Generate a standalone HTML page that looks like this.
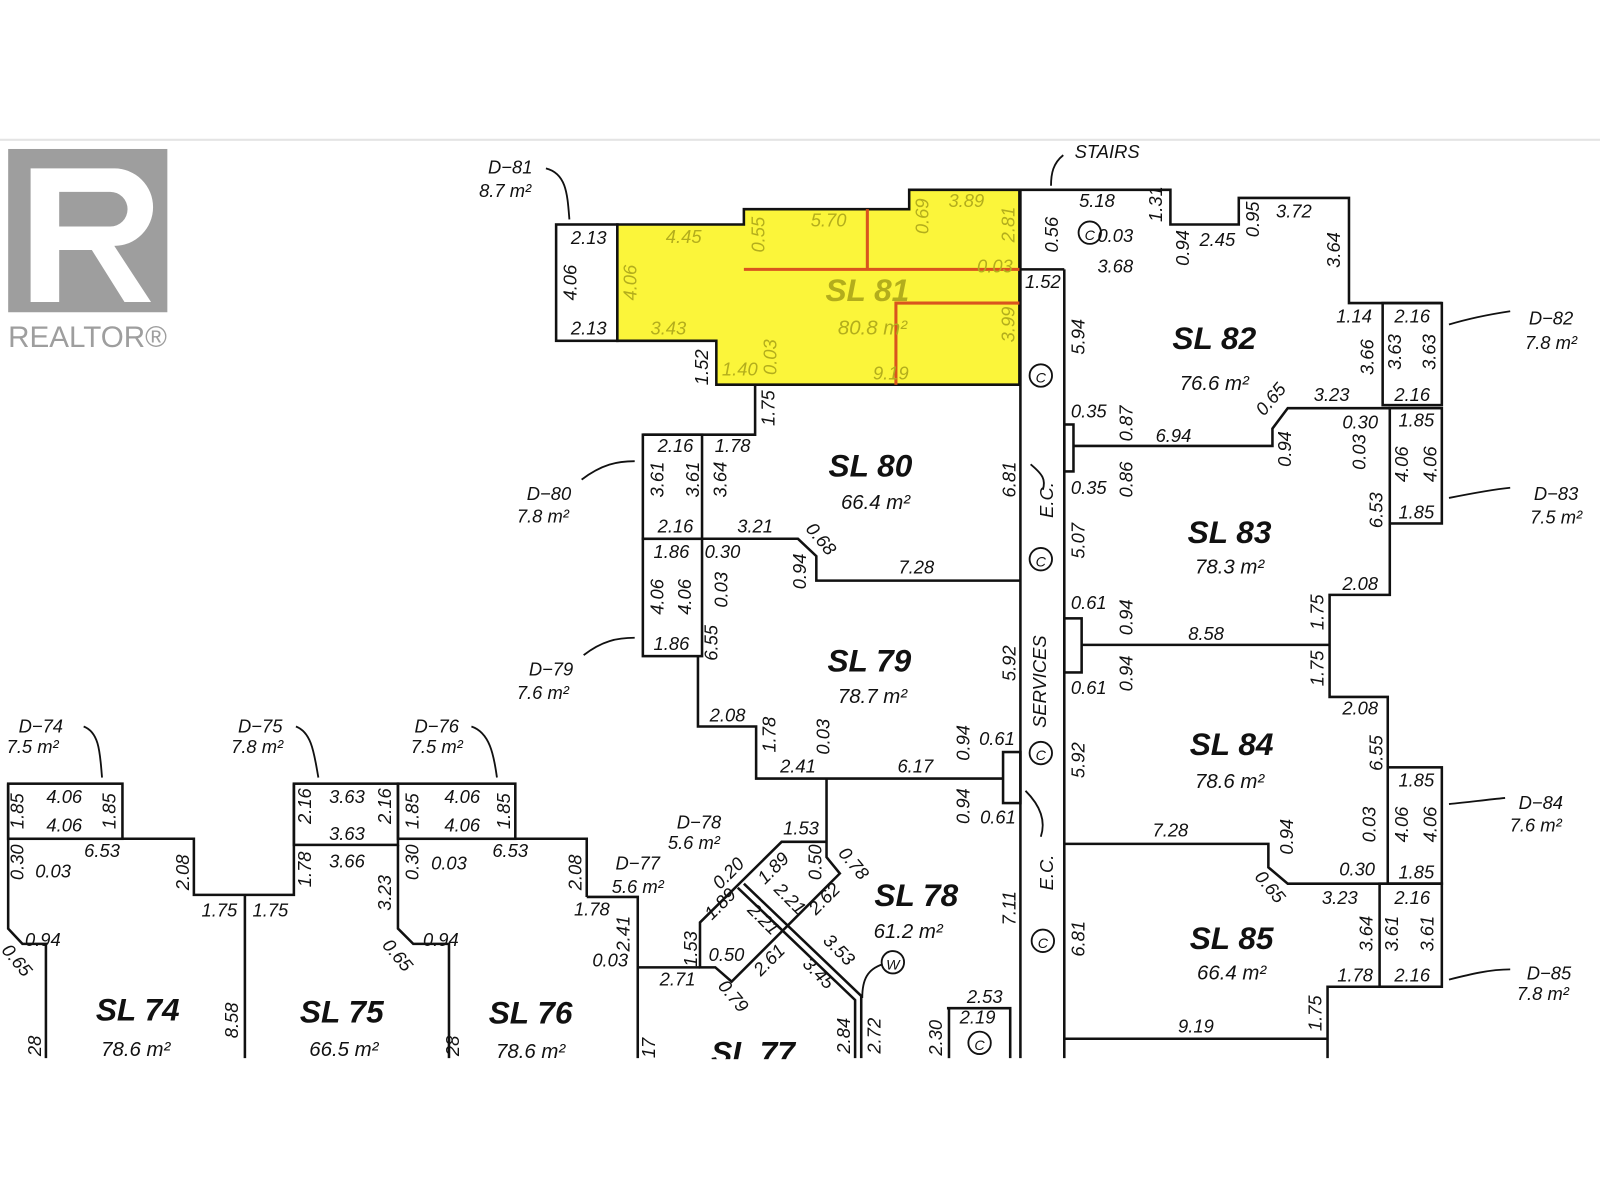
<!DOCTYPE html>
<html><head><meta charset="utf-8"><style>
html,body{margin:0;padding:0;background:#fff;}
svg{display:block}
text{font-family:"Liberation Sans",sans-serif;font-style:italic;fill:#111;text-anchor:middle}
.d{font-size:18px}
.s{font-size:31px;font-weight:bold}
.a{font-size:20px}
.y text, text.y{fill:#b3ad1c}
</style></head><body>
<svg width="1600" height="1200" viewBox="0 0 1568 1176" xmlns="http://www.w3.org/2000/svg">
<rect width="1568" height="1176" fill="#fff"/>
<line x1="0" y1="137" x2="1568" y2="137" stroke="#e4e4e4" stroke-width="2"/>
<!-- logo -->
<rect x="8" y="146" width="156" height="160" fill="#9e9e9e"/>
<path d="M30 165 H112 A38 38 0 0 1 112 241 L148 296 H122 L90 245 H58 V296 H30 Z M58 188 V222 H108 A17 17 0 0 0 108 188 Z" fill="#fff"/>
<text x="8" y="340" style="font-style:normal;text-anchor:start;font-size:29px;fill:#9e9e9e">REALTOR®</text>

<g fill="none" stroke="#111" stroke-width="2.5">
<rect x="545" y="220" width="60" height="114"/>
<polygon points="605,220 729,220 729,205 891,205 891,186 999,186 999,377 702,377 702,334 605,334" fill="#fbf53a"/>
<line x1="999" y1="264" x2="1043" y2="264"/>
<line x1="1000" y1="186" x2="1000" y2="1037"/>
<line x1="1043" y1="264" x2="1043" y2="1037"/>
<polyline points="999,186 1147,186 1147,220 1214,220 1214,194 1322,194 1322,297 1413,297"/>
<rect x="1355" y="297" width="58" height="100"/>
<rect x="1043" y="416" width="9" height="46"/>
<polyline points="1052,437 1247,437 1247,420 1262,400 1362,400"/>
<rect x="1362" y="400" width="51" height="113"/>
<polyline points="1362,513 1362,583 1303,583 1303,683 1360,683 1360,752"/>
<rect x="1043" y="606" width="17" height="53"/>
<line x1="1060" y1="632" x2="1303" y2="632"/>
<rect x="1360" y="752" width="53" height="114"/>
<polyline points="1043,827 1243,827 1243,850 1262,866 1413,866"/>
<rect x="1352" y="866" width="61" height="101"/>
<polyline points="1352,967 1301,967 1301,1037"/>
<line x1="1043" y1="1018" x2="1301" y2="1018"/>
<polyline points="740,377 740,426 630,426"/>
<rect x="630" y="426" width="58" height="102"/>
<polyline points="688,528 782,528 800,545 800,569 1000,569"/>
<rect x="630" y="528" width="58" height="115"/>
<polyline points="684,643 684,712 741,712 741,763 983,763"/>
<rect x="983" y="737" width="17" height="50"/>
<polyline points="810,763 810,840 823,856 717,962 701,948 686,948 686,904 766,825 810,825"/>
<polyline points="575,879 625,879 625,1037"/>
<line x1="625" y1="948" x2="686" y2="948"/>
<polyline points="723,870 838,980 838,1037"/>
<polyline points="729,866 844,976 844,1037"/>
<polyline points="928,988 990,988 990,1037"/>
<line x1="930" y1="988" x2="930" y2="1037"/>
<rect x="8" y="768" width="112" height="54"/>
<polyline points="8,768 8,910 22,925 45,925 45,1037"/>
<polyline points="8,822 190,822 190,877 288,877 288,768"/>
<rect x="288" y="768" width="102" height="60"/>
<rect x="390" y="768" width="115" height="54"/>
<polyline points="505,822 575,822 575,879"/>
<polyline points="390,828 390,910 405,925 440,925 440,1037"/>
<line x1="240" y1="877" x2="240" y2="1037"/>
</g>
<g stroke="#d9541e" stroke-width="3" fill="none">
<line x1="729" y1="264" x2="999" y2="264"/><line x1="850" y1="205" x2="850" y2="264"/>
<polyline points="999,297 878,297 878,377"/>
</g>
<g fill="none" stroke="#111" stroke-width="1.8">
<circle cx="1068" cy="228" r="11"/><circle cx="1020" cy="368" r="11"/><circle cx="1020" cy="548" r="11"/>
<circle cx="1020" cy="738" r="11"/><circle cx="1022" cy="922" r="11"/><circle cx="960" cy="1022" r="11"/><circle cx="875" cy="943" r="11"/>
<path d="M535 165 C555 170 556 190 558 215"/><path d="M1042 152 C1032 160 1030 170 1030 182"/>
<path d="M1480 305 C1460 308 1440 312 1420 318"/><path d="M1480 478 C1460 480 1440 484 1420 488"/>
<path d="M1475 782 C1455 784 1440 786 1420 788"/><path d="M1480 950 C1460 950 1440 955 1420 960"/>
<path d="M570 470 C590 455 605 452 622 452"/><path d="M572 642 C590 628 605 625 622 625"/>
<path d="M82 712 C98 718 98 740 100 762"/><path d="M290 712 C306 718 308 740 312 762"/><path d="M462 712 C480 718 484 740 487 762"/>
<path d="M1005 775 C1020 790 1025 805 1020 820"/><path d="M1010 455 C1022 465 1025 470 1022 480"/>
<path d="M865 945 C850 950 845 960 845 978"/>
</g>
<text x="1020" y="375" class="d" style="font-size:14px">C</text><text x="1068" y="235" class="d" style="font-size:14px">C</text>
<text x="1020" y="555" class="d" style="font-size:14px">C</text><text x="1020" y="745" class="d" style="font-size:14px">C</text>
<text x="1022" y="929" class="d" style="font-size:14px">C</text><text x="960" y="1029" class="d" style="font-size:14px">C</text>
<text x="875" y="950" class="d" style="font-size:14px">W</text>

<g class="d">
<text x="577" y="239">2.13</text><text x="577" y="328">2.13</text><text transform="translate(565,277) rotate(-90)">4.06</text>
<text x="500" y="170">D−81</text><text x="495" y="193">8.7 m²</text>
<text x="1085" y="155">STAIRS</text>
</g>
<g class="d y">
<text x="670" y="238">4.45</text><text transform="translate(624,277) rotate(-90)">4.06</text><text x="655" y="328">3.43</text>
<text transform="translate(749,230) rotate(-90)">0.55</text><text x="812" y="222">5.70</text>
<text transform="translate(910,212) rotate(-90)">0.69</text><text x="947" y="203">3.89</text>
<text transform="translate(994,220) rotate(-90)">2.81</text><text x="975" y="267">0.03</text>
<text transform="translate(994,318) rotate(-90)">3.99</text><text transform="translate(761,350) rotate(-90)">0.03</text>
<text x="725" y="368">1.40</text><text x="873" y="372">9.19</text>
<text x="850" y="295" class="s">SL 81</text><text x="855" y="328" class="a">80.8 m²</text>
</g>
<g class="d">
<text transform="translate(694,360) rotate(-90)">1.52</text><text transform="translate(759,400) rotate(-90)">1.75</text>
<text x="1022" y="282">1.52</text>
<text x="1075" y="203">5.18</text><text x="1093" y="237">0.03</text><text transform="translate(1139,200) rotate(-90)">1.31</text>
<text transform="translate(1037,230) rotate(-90)">0.56</text><text x="1093" y="267">3.68</text>
<text transform="translate(1165,243) rotate(-90)">0.94</text><text x="1193" y="241">2.45</text>
<text transform="translate(1234,215) rotate(-90)">0.95</text><text x="1268" y="213">3.72</text>
<text transform="translate(1313,245) rotate(-90)">3.64</text><text x="1327" y="316">1.14</text>
<text transform="translate(1346,350) rotate(-90)">3.66</text><text x="1384" y="316">2.16</text>
<text transform="translate(1373,345) rotate(-90)">3.63</text><text transform="translate(1407,345) rotate(-90)">3.63</text>
<text x="1384" y="393">2.16</text>
<text x="1520" y="318">D−82</text><text x="1520" y="342">7.8 m²</text>
<text transform="translate(1063,330) rotate(-90)">5.94</text>
<text x="1067" y="409">0.35</text><text transform="translate(1110,415) rotate(-90)">0.87</text><text x="1150" y="433">6.94</text>
<text transform="translate(1250,395) rotate(-50)">0.65</text><text x="1305" y="393">3.23</text>
<text transform="translate(1265,440) rotate(-90)">0.94</text><text x="1333" y="420">0.30</text>
<text transform="translate(1338,443) rotate(-90)">0.03</text><text x="1388" y="418">1.85</text>
<text transform="translate(1380,455) rotate(-90)">4.06</text><text transform="translate(1408,455) rotate(-90)">4.06</text>
<text x="1388" y="508">1.85</text><text transform="translate(1355,500) rotate(-90)">6.53</text>
<text x="1525" y="490">D−83</text><text x="1525" y="513">7.5 m²</text>
<text x="1067" y="484">0.35</text><text transform="translate(1110,470) rotate(-90)">0.86</text>
<text transform="translate(1032,490) rotate(-90)">E.C.</text><text transform="translate(1063,530) rotate(-90)">5.07</text>
<text transform="translate(995,470) rotate(-90)">6.81</text>
<text x="1333" y="578">2.08</text>
<text x="1067" y="597">0.61</text><text transform="translate(1110,605) rotate(-90)">0.94</text><text x="1182" y="627">8.58</text>
<text transform="translate(1297,600) rotate(-90)">1.75</text><text transform="translate(1297,655) rotate(-90)">1.75</text>
<text x="1067" y="680">0.61</text><text transform="translate(1110,660) rotate(-90)">0.94</text>
<text transform="translate(1025,668) rotate(-90)">SERVICES</text>
<text transform="translate(995,650) rotate(-90)">5.92</text><text transform="translate(1063,745) rotate(-90)">5.92</text>
<text x="1333" y="700">2.08</text><text transform="translate(1355,738) rotate(-90)">6.55</text>
<text x="1388" y="771">1.85</text><text transform="translate(1380,808) rotate(-90)">4.06</text><text transform="translate(1408,808) rotate(-90)">4.06</text>
<text x="1388" y="861">1.85</text><text transform="translate(1348,808) rotate(-90)">0.03</text><text x="1330" y="858">0.30</text>
<text x="1510" y="793">D−84</text><text x="1505" y="815">7.6 m²</text>
<text x="1147" y="820">7.28</text><text transform="translate(1267,820) rotate(-90)">0.94</text>
<text transform="translate(1240,873) rotate(50)">0.65</text><text x="1313" y="886">3.23</text>
<text x="1384" y="886">2.16</text><text transform="translate(1345,915) rotate(-90)">3.64</text>
<text transform="translate(1370,915) rotate(-90)">3.61</text><text transform="translate(1405,915) rotate(-90)">3.61</text>
<text x="1328" y="962">1.78</text><text x="1384" y="962">2.16</text>
<text x="1518" y="960">D−85</text><text x="1512" y="980">7.8 m²</text>
<text x="1172" y="1012">9.19</text><text transform="translate(1295,993) rotate(-90)">1.75</text>
<text transform="translate(1063,920) rotate(-90)">6.81</text><text transform="translate(1032,855) rotate(-90)">E.C.</text>
<text transform="translate(995,890) rotate(-90)">7.11</text>
<text x="662" y="443">2.16</text><text x="718" y="443">1.78</text>
<text transform="translate(650,470) rotate(-90)">3.61</text><text transform="translate(685,470) rotate(-90)">3.61</text>
<text transform="translate(712,470) rotate(-90)">3.64</text><text x="662" y="522">2.16</text><text x="740" y="522">3.21</text>
<text transform="translate(800,532) rotate(50)">0.68</text><text transform="translate(790,560) rotate(-90)">0.94</text>
<text x="898" y="562">7.28</text>
<text x="538" y="490">D−80</text><text x="532" y="512">7.8 m²</text>
<text x="658" y="547">1.86</text><text x="708" y="547">0.30</text>
<text transform="translate(650,585) rotate(-90)">4.06</text><text transform="translate(677,585) rotate(-90)">4.06</text>
<text transform="translate(713,578) rotate(-90)">0.03</text><text x="658" y="637">1.86</text>
<text transform="translate(703,630) rotate(-90)">6.55</text>
<text x="540" y="662">D−79</text><text x="532" y="685">7.6 m²</text>
<text x="713" y="707">2.08</text><text transform="translate(760,720) rotate(-90)">1.78</text>
<text transform="translate(813,722) rotate(-90)">0.03</text><text x="782" y="757">2.41</text>
<text x="897" y="757">6.17</text><text transform="translate(950,728) rotate(-90)">0.94</text><text x="977" y="730">0.61</text>
<text transform="translate(950,790) rotate(-90)">0.94</text><text x="978" y="807">0.61</text>
<text x="685" y="812">D−78</text><text x="680" y="832">5.6 m²</text>
<text x="625" y="852">D−77</text><text x="625" y="875">5.6 m²</text>
<text x="785" y="818">1.53</text><text transform="translate(718,860) rotate(-45)">0.20</text>
<text transform="translate(762,855) rotate(-45)">1.89</text><text transform="translate(805,845) rotate(-90)">0.50</text>
<text transform="translate(832,850) rotate(50)">0.78</text><text transform="translate(770,885) rotate(45)">2.21</text>
<text transform="translate(812,885) rotate(-45)">2.62</text><text transform="translate(710,890) rotate(-45)">1.89</text>
<text transform="translate(744,905) rotate(45)">2.21</text><text transform="translate(818,935) rotate(45)">3.53</text>
<text transform="translate(683,930) rotate(-90)">1.53</text><text x="712" y="942">0.50</text>
<text x="664" y="966">2.71</text><text transform="translate(714,980) rotate(50)">0.79</text>
<text transform="translate(758,945) rotate(-45)">2.61</text><text transform="translate(798,958) rotate(45)">3.45</text>
<text transform="translate(833,1015) rotate(-90)">2.84</text><text transform="translate(863,1015) rotate(-90)">2.72</text>
<text transform="translate(923,1017) rotate(-90)">2.30</text><text x="965" y="983">2.53</text><text x="958" y="1003">2.19</text>
<text transform="translate(617,915) rotate(-90)">2.41</text><text x="580" y="897">1.78</text><text x="598" y="947">0.03</text>
<text transform="translate(642,1027) rotate(-90)">17</text>
<text x="40" y="718">D−74</text><text x="32" y="738">7.5 m²</text>
<text transform="translate(23,795) rotate(-90)">1.85</text><text x="63" y="787">4.06</text><text x="63" y="815">4.06</text>
<text transform="translate(113,795) rotate(-90)">1.85</text><text transform="translate(23,845) rotate(-90)">0.30</text>
<text x="52" y="860">0.03</text><text x="100" y="840">6.53</text><text transform="translate(185,855) rotate(-90)">2.08</text>
<text x="215" y="898">1.75</text><text x="265" y="898">1.75</text><text x="42" y="927">0.94</text>
<text transform="translate(12,945) rotate(50)">0.65</text><text transform="translate(40,1025) rotate(-90)">28</text>
<text transform="translate(233,1000) rotate(-90)">8.58</text>
<text x="255" y="718">D−75</text><text x="252" y="738">7.8 m²</text>
<text transform="translate(305,790) rotate(-90)">2.16</text><text x="340" y="787">3.63</text><text x="340" y="823">3.63</text>
<text transform="translate(383,790) rotate(-90)">2.16</text><text transform="translate(305,852) rotate(-90)">1.78</text>
<text x="340" y="850">3.66</text><text transform="translate(383,875) rotate(-90)">3.23</text>
<text transform="translate(385,940) rotate(50)">0.65</text>
<text x="428" y="718">D−76</text><text x="428" y="738">7.5 m²</text>
<text transform="translate(410,795) rotate(-90)">1.85</text><text x="453" y="787">4.06</text><text x="453" y="815">4.06</text>
<text transform="translate(500,795) rotate(-90)">1.85</text><text transform="translate(410,845) rotate(-90)">0.30</text>
<text x="440" y="852">0.03</text><text x="500" y="840">6.53</text><text transform="translate(570,855) rotate(-90)">2.08</text>
<text x="432" y="927">0.94</text><text transform="translate(450,1025) rotate(-90)">28</text>
</g>
<g>
<text x="1190" y="342" class="s">SL 82</text><text x="1190" y="382" class="a">76.6 m²</text>
<text x="1205" y="532" class="s">SL 83</text><text x="1205" y="562" class="a">78.3 m²</text>
<text x="1207" y="740" class="s">SL 84</text><text x="1205" y="772" class="a">78.6 m²</text>
<text x="1207" y="930" class="s">SL 85</text><text x="1207" y="960" class="a">66.4 m²</text>
<text x="853" y="467" class="s">SL 80</text><text x="858" y="499" class="a">66.4 m²</text>
<text x="852" y="658" class="s">SL 79</text><text x="855" y="689" class="a">78.7 m²</text>
<text x="898" y="888" class="s">SL 78</text><text x="890" y="919" class="a">61.2 m²</text>
<text x="738" y="1042" class="s">SL 77</text>
<text x="135" y="1000" class="s">SL 74</text><text x="133" y="1035" class="a">78.6 m²</text>
<text x="335" y="1002" class="s">SL 75</text><text x="337" y="1035" class="a">66.5 m²</text>
<text x="520" y="1003" class="s">SL 76</text><text x="520" y="1037" class="a">78.6 m²</text>
</g>
<rect x="0" y="1038" width="1568" height="140" fill="#fff"/>
</svg>
</body></html>
